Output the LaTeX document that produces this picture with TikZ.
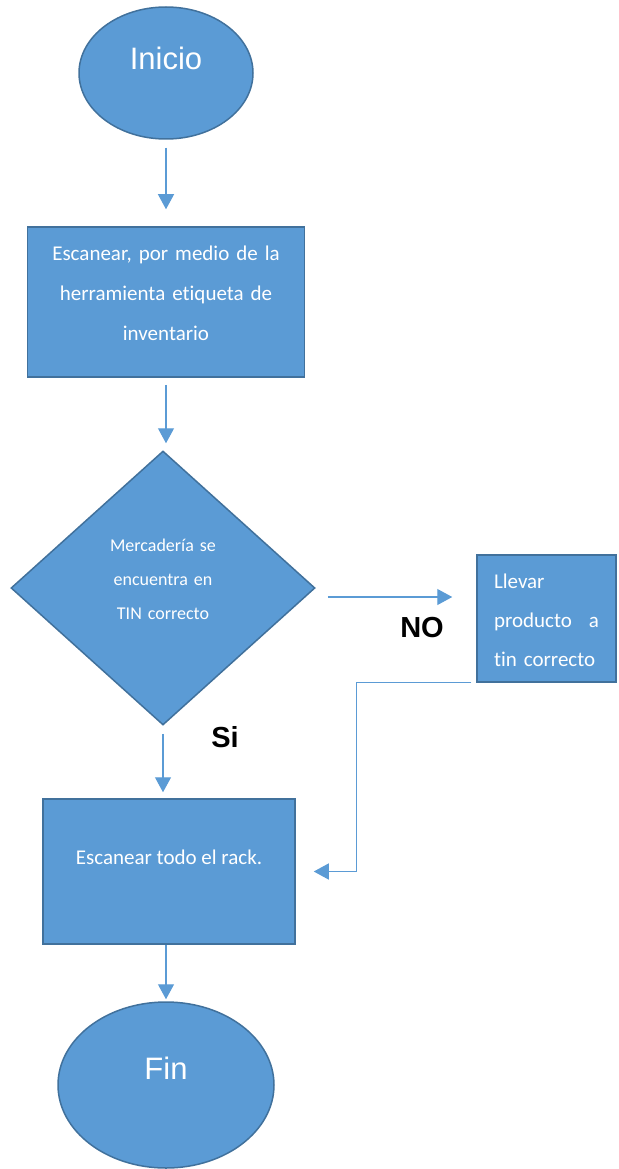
\documentclass[tikz,border=0pt]{standalone}
\usepackage{fontspec}
\setmainfont{Carlito}[Ligatures=NoCommon]
\newfontfamily\arialfont{Liberation Sans}
\usetikzlibrary{shapes.geometric,arrows.meta,positioning}
\definecolor{boxblue}{HTML}{5B9BD5}
\definecolor{edgeblue}{HTML}{41719C}

\begin{document}
\begin{tikzpicture}[x=1pt, y=-1pt,
    shapebox/.style={draw=edgeblue, line width=1.5pt, fill=boxblue, text=white},
    flow/.style={draw=boxblue, line width=1.2pt, -{Triangle[width=16pt,length=15pt]}},
    answer/.style={font=\arialfont\bfseries\fontsize{29}{34}\selectfont}]
    \useasboundingbox (0,0) rectangle (618,1169);

    % Start and end
    \node [ellipse, shapebox, minimum width=174pt, minimum height=132pt,
           font=\arialfont\fontsize{31}{36}\selectfont, text depth=30pt] (inicio) at (166,73) {Inicio};
    \node [ellipse, shapebox, minimum width=216pt, minimum height=166pt,
           font=\arialfont\fontsize{31}{36}\selectfont, text depth=34pt] (fin) at (166,1085) {Fin};

    % Steps
    \node [rectangle, shapebox, minimum width=277pt, minimum height=150pt, text width=250pt, align=center,
           font=\fontsize{21}{40}\selectfont, text height=15pt, text depth=99pt] (escanear) at (166,302)
          {Escanear, por medio de la\\herramienta etiqueta de\\inventario};
    \node [diamond, shapebox, minimum width=304pt, minimum height=274pt, inner sep=0pt, text width=130pt, align=center,
           font=\fontsize{18}{34}\selectfont, text height=13pt, text depth=87pt] (mercaderia) at (163,588)
          {Mercadería se\\encuentra en\\TIN correcto};
    \node [rectangle, shapebox, minimum width=139pt, minimum height=127pt, text width=105pt, align=left,
           font=\fontsize{21}{39}\selectfont, text height=14pt, text depth=75pt] (llevar) at (546.5,618.5)
          {Llevar\\producto\hfill a\\tin correcto};
    \node [rectangle, shapebox, minimum width=252pt, minimum height=145pt,
           font=\fontsize{21}{25}\selectfont, text height=14pt, text depth=29pt] (rack) at (169,871.5)
          {Escanear todo el rack.};

    % Answers
    \node [answer] (no) at (422,628) {NO};
    \node [answer] (si) at (225,737) {Si};

    % Arrows
    \draw [flow, shorten <=8pt, shorten >=17pt] (inicio.south) -- (escanear.north);
    \draw [flow, shorten <=7pt, shorten >=7pt] (escanear.south) -- (escanear.south |- mercaderia.north);
    \draw [flow, shorten <=8pt, shorten >=6pt] (mercaderia.south) -- (mercaderia.south |- rack.north);
    \draw [flow, shorten <=12pt, shorten >=24pt] ([yshift=-9pt]mercaderia.east) -- ([yshift=-9pt]mercaderia.east -| llevar.west);
    \draw [flow, shorten >=18pt] ([xshift=-5pt]llevar.south west) -- ++(-115,0) |- (rack.east);
    \draw [flow, shorten >=2pt] (fin.north |- rack.south) -- (fin.north);
\end{tikzpicture}
\end{document}
